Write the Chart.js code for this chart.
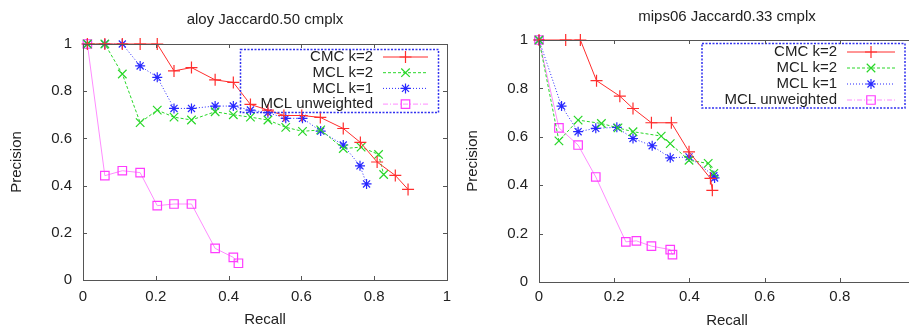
<!DOCTYPE html>
<html>
<head>
<meta charset="utf-8">
<script src="https://cdn.jsdelivr.net/npm/chart.js@4.4.1/dist/chart.umd.min.js"></script>
<style>
body{margin:0;background:#fff;overflow:hidden;width:909px;height:330px;position:relative}
canvas{position:absolute;top:0}
#c1{left:0}
#c2{left:460px}
</style>
</head>
<body>
<canvas id="c1" width="460" height="330"></canvas>
<canvas id="c2" width="470" height="330"></canvas>
<script>
const seriesNames=["CMC k=2","MCL k=2","MCL k=1","MCL unweighted"]
const xTicks=[0,0.2,0.4,0.6,0.8,1]
const yTicks=[0,0.2,0.4,0.6,0.8,1]

// aloy Jaccard0.50 cmplx
const aloy_cmc_r=[0.012,0.06,0.108,0.157,0.204,0.25,0.298,0.363,0.413,0.46,0.508,0.552,0.601,0.652,0.715,0.762,0.808,0.858,0.893]
const aloy_cmc_p=[1,1,1,1,1,0.886,0.90,0.848,0.837,0.744,0.72,0.697,0.697,0.689,0.642,0.583,0.50,0.443,0.384]
const aloy_mcl2_r=[0.012,0.06,0.108,0.157,0.204,0.25,0.298,0.363,0.413,0.46,0.508,0.557,0.603,0.653,0.715,0.764,0.812,0.826]
const aloy_mcl2_p=[1,1,0.873,0.667,0.72,0.69,0.678,0.713,0.70,0.69,0.678,0.647,0.63,0.636,0.557,0.563,0.532,0.447]
const aloy_mcl1_r=[0.012,0.06,0.108,0.157,0.204,0.25,0.298,0.363,0.413,0.46,0.508,0.557,0.603,0.653,0.715,0.761,0.779]
const aloy_mcl1_p=[1,1,1,0.907,0.859,0.727,0.727,0.737,0.737,0.72,0.709,0.685,0.685,0.631,0.572,0.484,0.407]
const aloy_unw_r=[0.012,0.06,0.108,0.157,0.204,0.25,0.298,0.363,0.413,0.427]
const aloy_unw_p=[1,0.442,0.463,0.455,0.315,0.322,0.322,0.134,0.096,0.071]

// mips06 Jaccard0.33 cmplx
const mips_cmc_r=[0,0.071,0.11,0.153,0.215,0.25,0.299,0.352,0.399,0.456,0.461]
const mips_cmc_p=[1,1,1,0.832,0.768,0.717,0.658,0.658,0.538,0.428,0.379]
const mips_mcl2_r=[0,0.053,0.104,0.166,0.21,0.25,0.325,0.349,0.399,0.45,0.465]
const mips_mcl2_p=[1,0.583,0.669,0.655,0.637,0.621,0.603,0.572,0.503,0.49,0.449]
const mips_mcl1_r=[0,0.06,0.104,0.151,0.207,0.25,0.301,0.349,0.399,0.465,0.467]
const mips_mcl1_p=[1,0.727,0.621,0.635,0.639,0.593,0.563,0.513,0.517,0.439,0.43]
const mips_unw_r=[0,0.053,0.104,0.151,0.231,0.259,0.299,0.349,0.355]
const mips_unw_p=[1,0.637,0.566,0.434,0.166,0.17,0.148,0.134,0.113]

const FONT="'Liberation Sans', Arial, sans-serif"
const TXT="#222"
const styles=[
  {color:'rgb(255,45,45)',line:'rgb(255,45,45)',dash:[],pointStyle:'cross',radius:6},
  {color:'rgb(40,215,40)',line:'rgb(40,215,40)',dash:[3,2],pointStyle:'crossRot',radius:6},
  {color:'rgb(40,40,255)',line:'rgb(40,40,255)',dash:[1,2],pointStyle:'star',radius:5},
  {color:'rgb(255,60,255)',line:'rgb(255,140,255)',dash:[],pointStyle:'rect',radius:6}
]

function pts(r,p){
  const out=[]
  for(let i=0;i<r.length;i++){ out.push({x:r[i],y:p[i]}) }
  return out
}

function fmt(v){ return String(Number(v.toFixed(1))) }

function makeSets(list){
  return list.map((s,i)=>({
    label:seriesNames[i],
    data:pts(s[0],s[1]),
    borderColor:styles[i].line,
    backgroundColor:'rgba(0,0,0,0)',
    borderWidth:1,
    borderDash:styles[i].dash,
    pointStyle:styles[i].pointStyle,
    pointRadius:styles[i].radius,
    pointBorderColor:styles[i].color,
    pointBorderWidth:1.2,
    pointBackgroundColor:'rgba(0,0,0,0)',
    tension:0,
    clip:10
  }))
}

// frame with inward ticks, gnuplot style
const framePlugin={
  id:'frame',
  afterDraw(chart){
    const ctx=chart.ctx, a=chart.chartArea
    const xs=chart.scales.x, ys=chart.scales.y
    ctx.save()
    ctx.strokeStyle='#555'
    ctx.lineWidth=1
    ctx.setLineDash([])
    ctx.strokeRect(a.left+0.5,a.top+0.5,a.right-a.left,a.bottom-a.top)
    ctx.beginPath()
    xTicks.forEach(v=>{
      const px=Math.round(xs.getPixelForValue(v))+0.5
      ctx.moveTo(px,a.bottom);ctx.lineTo(px,a.bottom-4)
      ctx.moveTo(px,a.top);ctx.lineTo(px,a.top+4)
    })
    yTicks.forEach(v=>{
      const py=Math.round(ys.getPixelForValue(v))+0.5
      ctx.moveTo(a.left,py);ctx.lineTo(a.left+4,py)
      ctx.moveTo(a.right,py);ctx.lineTo(a.right-4,py)
    })
    ctx.stroke()
    ctx.restore()
  }
}

const keyPlugin={
  id:'key',
  afterDatasetsDraw(chart,args,opts){
    const ctx=chart.ctx
    ctx.save()
    ctx.strokeStyle='rgb(50,50,240)'
    ctx.lineWidth=1.5
    ctx.setLineDash([2,1.5])
    ctx.strokeRect(opts.box[0],opts.box[1],opts.box[2],opts.box[3])
    ctx.font="15px "+FONT
    ctx.textAlign='right'
    ctx.textBaseline='middle'
    chart.data.datasets.forEach((ds,i)=>{
      const y=opts.rowY+i*opts.rowH
      ctx.setLineDash([])
      ctx.fillStyle=TXT
      ctx.fillText(ds.label,opts.textRight,y)
      ctx.strokeStyle=ds.borderColor
      ctx.lineWidth=1
      ctx.setLineDash(i==3?[5,2,1,2]:ds.borderDash)
      ctx.beginPath()
      ctx.moveTo(opts.line[0],y);ctx.lineTo(opts.line[1],y)
      ctx.stroke()
      ctx.setLineDash([])
      ctx.fillStyle='rgba(0,0,0,0)'
      ctx.strokeStyle=ds.pointBorderColor
      ctx.lineWidth=1.2
      Chart.helpers.drawPoint(ctx,{pointStyle:ds.pointStyle,radius:ds.pointRadius,rotation:0,borderWidth:1.2},(opts.line[0]+opts.line[1])/2,y)
    })
    ctx.restore()
  }
}

function makeChart(id,title,sets,lay,key){
  return new Chart(id,{
    type:'line',
    data:{datasets:makeSets(sets)},
    plugins:[framePlugin,keyPlugin],
    options:{
      responsive:false,
      animation:false,
      layout:{padding:{left:0,right:lay.right,top:0,bottom:0}},
      plugins:{
        legend:{display:false},
        tooltip:{enabled:false},
        title:{display:true,text:title,fullSize:false,color:TXT,
          font:{family:FONT,size:15,weight:'normal'},
          padding:{top:lay.titleTop,bottom:lay.titleBottom}},
        key:key
      },
      scales:{
        x:{type:'linear',min:0,max:1,
          afterFit(s){s.height=lay.xh},
          afterBuildTicks(s){s.ticks=xTicks.map(v=>({value:v}))},
          grid:{display:false,drawTicks:false},border:{display:false},
          ticks:{color:TXT,padding:lay.xpad,maxRotation:0,font:{family:FONT,size:15},callback:fmt},
          title:{display:true,text:'Recall',color:TXT,font:{family:FONT,size:15},padding:{top:0,bottom:lay.xtp}}},
        y:{type:'linear',min:0,max:1,
          afterFit(s){s.width=lay.yw},
          afterBuildTicks(s){s.ticks=yTicks.map(v=>({value:v}))},
          grid:{display:false,drawTicks:false},border:{display:false},
          ticks:{color:TXT,padding:lay.ypad,font:{family:FONT,size:15},callback:fmt},
          title:{display:true,text:'Precision',color:TXT,font:{family:FONT,size:15},padding:{top:lay.ytp,bottom:0}}}
      }
    }
  })
}

makeChart('c1','aloy Jaccard0.50 cmplx',
  [[aloy_cmc_r,aloy_cmc_p],[aloy_mcl2_r,aloy_mcl2_p],[aloy_mcl1_r,aloy_mcl1_p],[aloy_unw_r,aloy_unw_p]],
  {right:13,titleTop:11,titleBottom:15,xh:50,yw:83,xpad:8,ypad:11,xtp:1,ytp:8},
  {box:[240.5,49.5,198,63],rowY:57,rowH:15.7,textRight:373,line:[383,428]})

makeChart('c2','mips06 Jaccard0.33 cmplx',
  [[mips_cmc_r,mips_cmc_p],[mips_mcl2_r,mips_mcl2_p],[mips_mcl1_r,mips_mcl1_p],[mips_unw_r,mips_unw_p]],
  {right:15,titleTop:8,titleBottom:14,xh:48,yw:79,xpad:6,ypad:11,xtp:0,ytp:4},
  {box:[242,43.5,203,64.5],rowY:52,rowH:16,textRight:377,line:[387,435]})
</script>
</body>
</html>
